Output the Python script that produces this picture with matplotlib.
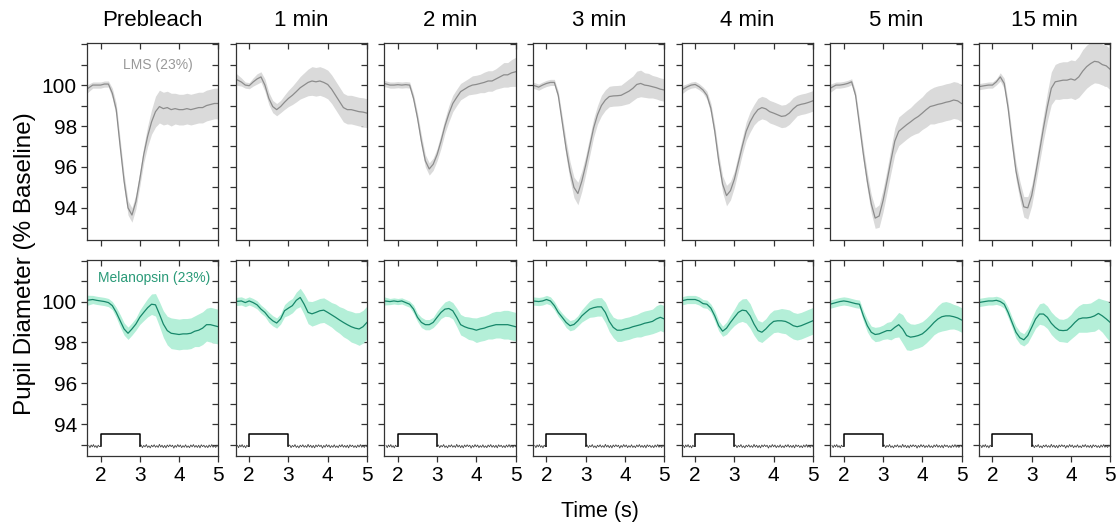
import numpy as np
import matplotlib
matplotlib.use("Agg")
import matplotlib.pyplot as plt
from matplotlib.ticker import MultipleLocator

plt.rcParams['font.family'] = ['Liberation Sans', 'DejaVu Sans']

titles = ["Prebleach", "1 min", "2 min", "3 min", "4 min", "5 min", "15 min"]

# sample times (s)
t = [1.65] + list(np.round(np.arange(1.8, 5.001, 0.1), 2))

# LMS (top row) means and SEM
lms_pre = [99.8, 100.0, 100.0, 100.0, 100.05, 100.05, 99.6, 98.8, 97.0, 95.3, 94.0, 93.65, 94.3, 95.4, 96.6, 97.5, 98.2, 98.7, 98.95, 98.85, 98.9, 98.8, 98.85, 98.8, 98.8, 98.85, 98.8, 98.85, 98.9, 98.9, 99.0, 99.05, 99.1, 99.1]
lms_1 = [100.3, 100.15, 100.0, 99.97, 100.15, 100.3, 100.4, 100.0, 99.35, 98.95, 98.8, 98.95, 99.16, 99.35, 99.5, 99.68, 99.87, 100.0, 100.13, 100.2, 100.16, 100.2, 100.13, 100.03, 99.8, 99.5, 99.2, 98.9, 98.8, 98.8, 98.75, 98.7, 98.68, 98.63]
lms_2 = [100.08, 100.0, 100.0, 100.02, 100.0, 100.02, 100.0, 99.35, 98.4, 97.26, 96.3, 95.9, 96.13, 96.6, 97.26, 98.0, 98.6, 99.1, 99.4, 99.68, 99.8, 99.92, 100.0, 100.03, 100.08, 100.13, 100.2, 100.2, 100.3, 100.4, 100.5, 100.5, 100.6, 100.65]
lms_3 = [100.0, 99.9, 100.0, 100.08, 100.13, 100.13, 99.5, 98.2, 96.9, 95.8, 95.0, 94.7, 95.3, 96.1, 97.0, 97.9, 98.55, 99.0, 99.27, 99.44, 99.47, 99.48, 99.5, 99.6, 99.7, 99.84, 100.03, 100.08, 100.0, 99.97, 99.92, 99.87, 99.8, 99.76]
lms_4 = [99.76, 99.92, 100.0, 100.03, 99.92, 99.76, 99.5, 98.87, 97.74, 96.3, 95.16, 94.6, 94.84, 95.4, 96.2, 97.0, 97.74, 98.2, 98.55, 98.8, 98.9, 98.84, 98.7, 98.63, 98.55, 98.47, 98.5, 98.63, 98.84, 99.0, 99.06, 99.1, 99.16, 99.23]
lms_5 = [99.84, 100.0, 100.0, 100.03, 100.08, 100.16, 99.5, 98.06, 96.6, 95.3, 94.2, 93.5, 93.6, 94.35, 95.3, 96.3, 97.26, 97.74, 97.9, 98.06, 98.2, 98.35, 98.47, 98.63, 98.8, 98.95, 99.0, 99.06, 99.1, 99.16, 99.2, 99.27, 99.23, 99.1]
lms_15 = [99.92, 99.97, 100.0, 100.0, 100.16, 100.4, 100.08, 98.87, 97.26, 95.8, 94.84, 94.05, 94.0, 94.6, 95.65, 96.77, 97.9, 98.95, 99.84, 100.16, 100.2, 100.24, 100.24, 100.3, 100.24, 100.4, 100.68, 100.9, 101.05, 101.16, 101.13, 101.0, 100.94, 100.77]

lms_pre_sem = [0.2, 0.15, 0.15, 0.15, 0.15, 0.15, 0.25, 0.3, 0.35, 0.35, 0.35, 0.35, 0.35, 0.35, 0.4, 0.5, 0.6, 0.75, 0.8, 0.8, 0.8, 0.8, 0.75, 0.75, 0.75, 0.75, 0.75, 0.75, 0.75, 0.75, 0.75, 0.75, 0.75, 0.75]
lms_1_sem = [0.3, 0.2, 0.15, 0.15, 0.2, 0.25, 0.25, 0.3, 0.3, 0.3, 0.3, 0.3, 0.35, 0.4, 0.45, 0.5, 0.55, 0.6, 0.65, 0.7, 0.7, 0.7, 0.7, 0.7, 0.7, 0.7, 0.7, 0.7, 0.7, 0.7, 0.7, 0.7, 0.7, 0.7]
lms_2_sem = [0.15, 0.15, 0.15, 0.15, 0.15, 0.15, 0.15, 0.2, 0.25, 0.3, 0.3, 0.3, 0.3, 0.3, 0.35, 0.35, 0.4, 0.4, 0.4, 0.4, 0.4, 0.4, 0.45, 0.45, 0.45, 0.5, 0.5, 0.5, 0.5, 0.55, 0.6, 0.6, 0.65, 0.7]
lms_3_sem = [0.15, 0.15, 0.15, 0.15, 0.15, 0.15, 0.2, 0.3, 0.4, 0.45, 0.5, 0.55, 0.5, 0.45, 0.45, 0.45, 0.45, 0.5, 0.5, 0.5, 0.5, 0.5, 0.5, 0.55, 0.6, 0.6, 0.65, 0.65, 0.6, 0.6, 0.55, 0.55, 0.55, 0.55]
lms_4_sem = [0.2, 0.15, 0.15, 0.15, 0.15, 0.15, 0.2, 0.25, 0.3, 0.35, 0.4, 0.5, 0.45, 0.4, 0.4, 0.4, 0.45, 0.5, 0.5, 0.55, 0.55, 0.55, 0.55, 0.55, 0.55, 0.55, 0.55, 0.55, 0.55, 0.5, 0.5, 0.5, 0.5, 0.5]
lms_5_sem = [0.2, 0.15, 0.15, 0.15, 0.15, 0.15, 0.2, 0.3, 0.35, 0.4, 0.45, 0.5, 0.55, 0.55, 0.55, 0.6, 0.65, 0.7, 0.7, 0.7, 0.7, 0.75, 0.8, 0.8, 0.85, 0.85, 0.9, 0.9, 0.9, 0.9, 0.9, 0.9, 0.9, 0.9]
lms_15_sem = [0.15, 0.15, 0.15, 0.15, 0.15, 0.2, 0.25, 0.3, 0.35, 0.4, 0.45, 0.5, 0.55, 0.5, 0.5, 0.55, 0.6, 0.7, 0.8, 0.85, 0.9, 0.9, 0.9, 0.93, 0.95, 1.0, 1.05, 1.05, 1.05, 1.05, 1.05, 1.0, 1.0, 1.0]

# Melanopsin (bottom row) means and SEM
mel_pre = [100.06, 100.1, 100.06, 100.03, 100.0, 99.95, 99.8, 99.47, 99.06, 98.66, 98.45, 98.66, 98.9, 99.23, 99.47, 99.7, 99.87, 99.84, 99.39, 98.9, 98.58, 98.45, 98.42, 98.39, 98.42, 98.42, 98.45, 98.55, 98.6, 98.7, 98.87, 98.87, 98.82, 98.77]
mel_1 = [100.0, 100.03, 99.95, 100.03, 99.95, 99.84, 99.63, 99.47, 99.23, 99.06, 98.95, 99.15, 99.55, 99.68, 99.8, 100.06, 100.2, 99.87, 99.47, 99.4, 99.47, 99.55, 99.58, 99.47, 99.35, 99.23, 99.1, 98.98, 98.87, 98.77, 98.7, 98.66, 98.77, 98.98]
mel_2 = [100.03, 100.0, 100.03, 100.0, 100.03, 99.95, 99.87, 99.63, 99.23, 98.98, 98.87, 98.87, 98.98, 99.23, 99.47, 99.63, 99.66, 99.55, 99.23, 98.87, 98.77, 98.7, 98.66, 98.6, 98.66, 98.7, 98.77, 98.82, 98.87, 98.87, 98.87, 98.87, 98.82, 98.77]
mel_3 = [100.03, 100.0, 100.03, 100.1, 100.03, 99.8, 99.47, 99.23, 98.98, 98.82, 98.88, 99.06, 99.3, 99.47, 99.63, 99.7, 99.74, 99.74, 99.47, 99.03, 98.74, 98.6, 98.6, 98.66, 98.7, 98.77, 98.82, 98.87, 98.94, 98.98, 99.03, 99.15, 99.23, 99.15]
mel_4 = [100.03, 100.1, 100.1, 100.1, 100.03, 99.9, 99.87, 99.68, 99.3, 98.82, 98.55, 98.7, 98.98, 99.23, 99.47, 99.58, 99.55, 99.3, 98.9, 98.58, 98.5, 98.66, 98.87, 99.03, 99.06, 99.06, 99.03, 98.94, 98.82, 98.77, 98.82, 98.9, 98.98, 99.06]
mel_5 = [99.87, 99.95, 100.0, 100.03, 100.0, 99.95, 99.9, 99.87, 99.3, 98.82, 98.5, 98.39, 98.42, 98.5, 98.58, 98.58, 98.74, 98.87, 98.66, 98.34, 98.26, 98.29, 98.34, 98.42, 98.58, 98.77, 98.98, 99.15, 99.26, 99.3, 99.3, 99.26, 99.2, 99.1]
mel_15 = [99.95, 100.0, 100.03, 100.03, 100.06, 100.0, 99.87, 99.47, 98.98, 98.5, 98.23, 98.13, 98.34, 98.74, 99.15, 99.39, 99.39, 99.23, 98.94, 98.74, 98.6, 98.58, 98.6, 98.77, 98.98, 99.15, 99.2, 99.2, 99.23, 99.3, 99.42, 99.3, 99.15, 98.98]

mel_pre_sem = [0.25, 0.2, 0.2, 0.2, 0.2, 0.2, 0.2, 0.25, 0.3, 0.3, 0.3, 0.3, 0.3, 0.35, 0.4, 0.45, 0.5, 0.55, 0.6, 0.65, 0.7, 0.75, 0.75, 0.75, 0.75, 0.75, 0.75, 0.75, 0.8, 0.8, 0.8, 0.85, 0.85, 0.85]
mel_1_sem = [0.2, 0.2, 0.2, 0.2, 0.2, 0.2, 0.2, 0.2, 0.25, 0.25, 0.25, 0.25, 0.3, 0.35, 0.35, 0.4, 0.45, 0.5, 0.55, 0.6, 0.6, 0.6, 0.6, 0.6, 0.6, 0.65, 0.65, 0.7, 0.7, 0.75, 0.75, 0.8, 0.8, 0.8]
mel_2_sem = [0.2, 0.15, 0.15, 0.15, 0.15, 0.15, 0.15, 0.2, 0.2, 0.25, 0.25, 0.25, 0.25, 0.3, 0.3, 0.35, 0.4, 0.4, 0.45, 0.5, 0.5, 0.55, 0.55, 0.6, 0.6, 0.6, 0.6, 0.65, 0.65, 0.65, 0.7, 0.7, 0.7, 0.7]
mel_3_sem = [0.2, 0.2, 0.2, 0.2, 0.2, 0.2, 0.2, 0.2, 0.25, 0.25, 0.25, 0.25, 0.3, 0.35, 0.4, 0.45, 0.45, 0.45, 0.5, 0.5, 0.5, 0.55, 0.55, 0.55, 0.55, 0.55, 0.55, 0.6, 0.6, 0.6, 0.6, 0.65, 0.65, 0.65]
mel_4_sem = [0.2, 0.2, 0.2, 0.2, 0.2, 0.2, 0.2, 0.2, 0.25, 0.25, 0.25, 0.3, 0.35, 0.4, 0.5, 0.55, 0.6, 0.6, 0.55, 0.5, 0.5, 0.5, 0.55, 0.55, 0.55, 0.6, 0.6, 0.65, 0.65, 0.65, 0.65, 0.65, 0.65, 0.65]
mel_5_sem = [0.2, 0.2, 0.2, 0.2, 0.2, 0.2, 0.2, 0.2, 0.25, 0.3, 0.3, 0.35, 0.35, 0.35, 0.4, 0.45, 0.5, 0.6, 0.7, 0.7, 0.65, 0.6, 0.6, 0.6, 0.6, 0.6, 0.6, 0.65, 0.7, 0.7, 0.65, 0.6, 0.6, 0.6]
mel_15_sem = [0.2, 0.2, 0.2, 0.2, 0.2, 0.2, 0.2, 0.25, 0.25, 0.3, 0.3, 0.3, 0.35, 0.4, 0.45, 0.5, 0.55, 0.55, 0.55, 0.55, 0.55, 0.55, 0.6, 0.6, 0.65, 0.65, 0.7, 0.7, 0.7, 0.75, 0.75, 0.8, 0.9, 0.95]

lms = [lms_pre, lms_1, lms_2, lms_3, lms_4, lms_5, lms_15]
lms_sem = [lms_pre_sem, lms_1_sem, lms_2_sem, lms_3_sem, lms_4_sem, lms_5_sem, lms_15_sem]
mel = [mel_pre, mel_1, mel_2, mel_3, mel_4, mel_5, mel_15]
mel_sem = [mel_pre_sem, mel_1_sem, mel_2_sem, mel_3_sem, mel_4_sem, mel_5_sem, mel_15_sem]

# stimulus trace (bottom row): on between 2 and 3 s, noisy baseline otherwise
stim_base = 92.93
stim_on = 93.55
noise_pre = [0.04, -0.07, 0.06, -0.03, 0.08, -0.05, 0.03, -0.08, 0.05, -0.02, 0.0]
noise_post = [0.0, 0.06, -0.07, 0.04, -0.03, 0.08, -0.06, 0.02, -0.08, 0.05, -0.03,
              0.07, -0.05, 0.03, -0.06, 0.09, -0.04, 0.05, -0.07, 0.04, -0.08, 0.06,
              -0.03, 0.07, -0.02, 0.05, -0.09, 0.04, -0.05, 0.08, -0.03, 0.06, -0.07,
              0.03, -0.05, 0.07, -0.06, 0.02, -0.07, 0.06, -0.03, 0.08, -0.05, 0.04,
              -0.06, 0.05, -0.08, 0.07, -0.02, 0.05, -0.06, 0.03, -0.07, 0.06, -0.04,
              0.08, -0.05, 0.03, -0.06, 0.05, -0.02]

gray_line = '#8c8c8c'
gray_fill = '#dadada'
green_line = '#17876a'
green_fill = '#b4efd8'
spine_col = '#333333'

fig, axes = plt.subplots(2, 7, figsize=(11.18, 5.26), dpi=100, sharex=True, sharey=True)
plt.subplots_adjust(left=0.078, right=0.993, top=0.918, bottom=0.133, wspace=0.134, hspace=0.102)

for row in range(2):
    for col in range(7):
        ax = axes[row, col]
        if row == 0:
            m = np.array(lms[col])
            s = np.array(lms_sem[col])
            ax.fill_between(t, m - s, m + s, color=gray_fill, lw=0)
            ax.plot(t, m, color=gray_line, lw=0.9)
        else:
            m = np.array(mel[col])
            s = np.array(mel_sem[col])
            ax.fill_between(t, m - s, m + s, color=green_fill, lw=0)
            ax.plot(t, m, color=green_line, lw=0.9)
            # stimulus
            ax.plot(np.linspace(1.7, 2.0, len(noise_pre)), stim_base + np.array(noise_pre),
                    color='#444444', lw=0.6)
            ax.plot(np.linspace(3.0, 5.0, len(noise_post)), stim_base + np.array(noise_post),
                    color='#444444', lw=0.6)
            ax.plot([2, 2, 3, 3], [stim_base, stim_on, stim_on, stim_base], color='black', lw=1.1)

        ax.set_xlim(1.66, 5)
        ax.set_ylim(92.45, 102.05)
        ax.set_xticks([2, 3, 4, 5])
        ax.set_yticks([94, 96, 98, 100])
        ax.yaxis.set_minor_locator(MultipleLocator(1))
        ax.tick_params(axis='both', which='both', direction='out', length=4,
                       width=0.9, color=spine_col, labelsize=15)
        for sp in ax.spines.values():
            sp.set_color(spine_col)
            sp.set_linewidth(0.9)

        # inward ticks on right and top
        sy = ax.secondary_yaxis('right')
        sy.set_yticks([94, 96, 98, 100])
        sy.yaxis.set_minor_locator(MultipleLocator(1))
        sy.tick_params(which='both', direction='in', length=4, width=0.9,
                       color=spine_col, labelright=False)
        sy.spines['right'].set_visible(False)
        sx = ax.secondary_xaxis('top')
        sx.set_xticks([2, 3, 4, 5])
        sx.tick_params(direction='in', length=4, width=0.9, color=spine_col, labeltop=False)
        sx.spines['top'].set_visible(False)

        if row == 0:
            ax.set_title(titles[col], fontsize=16, pad=12)
            ax.tick_params(labelbottom=False)
        if col > 0:
            ax.tick_params(labelleft=False)

axes[0, 0].text(3.45, 100.98, "LMS (23%)", color='#999999', fontsize=10,
                ha='center', va='center')
axes[1, 0].text(3.37, 101.17, "Melanopsin (23%)", color='#2a9a78', fontsize=10,
                ha='center', va='center')

fig.text(0.022, 0.498, "Pupil Diameter (% Baseline)", rotation=90, fontsize=17.5,
         ha='center', va='center')
fig.text(0.537, 0.028, "Time (s)", fontsize=15.5, ha='center', va='center')

fig.savefig("out.png", dpi=100)
